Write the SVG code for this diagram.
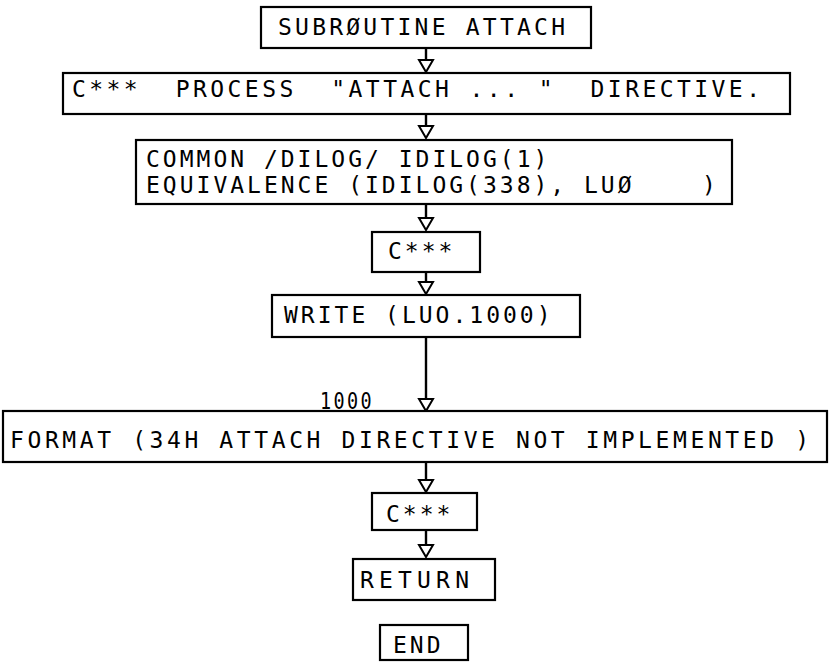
<svg xmlns="http://www.w3.org/2000/svg" width="830" height="664" viewBox="0 0 830 664" xml:space="preserve">
  <style>
    .box { fill: #fff; stroke: #000; stroke-width: 2.2; }
    .t { font-family: "DejaVu Sans Mono", "Liberation Mono", monospace; font-size: 23px; fill: #000; letter-spacing: 3px; white-space: pre; }
    .ln { stroke: #000; stroke-width: 2.4; fill: none; }
    .ah { fill: #fff; stroke: #000; stroke-width: 2; }
  </style>
  <defs>
    <polygon id="tri" class="ah" points="-7,0 7,0 0,12"/>
  </defs>
  <rect width="830" height="664" fill="#fff"/>

  <g id="connectors">
    <line class="ln" x1="426" y1="48" x2="426" y2="60"/>
    <use href="#tri" x="426" y="60"/>
    <line class="ln" x1="426" y1="114" x2="426" y2="126"/>
    <use href="#tri" x="426" y="126"/>
    <line class="ln" x1="426" y1="204" x2="426" y2="218"/>
    <use href="#tri" x="426" y="218"/>
    <line class="ln" x1="426" y1="272" x2="426" y2="282"/>
    <use href="#tri" x="426" y="282"/>
    <line class="ln" x1="426" y1="337" x2="426" y2="399" stroke-width="3"/>
    <use href="#tri" x="426" y="399"/>
    <line class="ln" x1="426" y1="462" x2="426" y2="480"/>
    <use href="#tri" x="426" y="480"/>
    <line class="ln" x1="426" y1="530" x2="426" y2="545"/>
    <use href="#tri" x="426" y="545"/>
  </g>

  <g id="n-subroutine">
    <rect class="box" x="261" y="7" width="330" height="41"/>
    <text class="t" x="278" y="35" textLength="290" lengthAdjust="spacing">SUBRØUTINE ATTACH</text>
  </g>

  <g id="n-comment1">
    <rect class="box" x="63" y="73" width="727" height="41"/>
    <text class="t" x="72" y="97" textLength="691" lengthAdjust="spacing">C***  PROCESS  "ATTACH ... "  DIRECTIVE.</text>
  </g>

  <g id="n-common">
    <rect class="box" x="136" y="140" width="596" height="64"/>
    <text class="t" x="146" y="167">COMMON /DILOG/ IDILOG(1)</text>
    <text class="t" x="146" y="193">EQUIVALENCE (IDILOG(338), LUØ    )</text>
  </g>

  <g id="n-comment2">
    <rect class="box" x="372" y="232" width="108" height="40"/>
    <text class="t" x="388" y="259">C***</text>
  </g>

  <g id="n-write">
    <rect class="box" x="272" y="295" width="308" height="42"/>
    <text class="t" x="284" y="323">WRITE (LUO.1000)</text>
  </g>

  <g id="n-format">
    <text class="t" x="320" y="409" textLength="54" lengthAdjust="spacingAndGlyphs">1000</text>
    <rect class="box" x="3" y="411" width="824" height="51"/>
    <text class="t" x="10" y="448" textLength="802" lengthAdjust="spacing">FORMAT (34H ATTACH DIRECTIVE NOT IMPLEMENTED )</text>
  </g>

  <g id="n-comment3">
    <rect class="box" x="372" y="493" width="105" height="37"/>
    <text class="t" x="386" y="522">C***</text>
  </g>

  <g id="n-return">
    <rect class="box" x="353" y="559" width="142" height="41"/>
    <text class="t" x="360" y="588" textLength="112" lengthAdjust="spacing">RETURN</text>
  </g>

  <g id="n-end">
    <rect class="box" x="380" y="625" width="88" height="35"/>
    <text class="t" x="393" y="653">END</text>
  </g>
</svg>
